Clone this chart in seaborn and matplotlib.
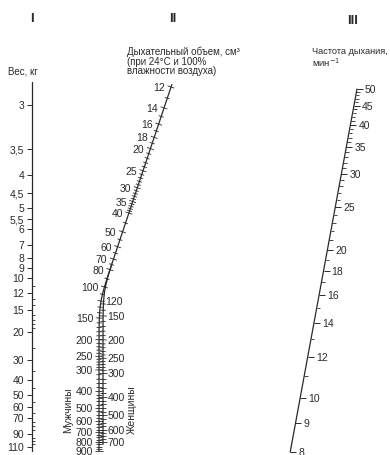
import numpy as np
import pandas as pd
import matplotlib
matplotlib.use("Agg")
import matplotlib.pyplot as plt
import seaborn as sns
from matplotlib import font_manager

# ---------------- data ----------------
weight_labels = [3, 3.5, 4, 4.5, 5, 5.5, 6, 7, 8, 9, 10, 12, 15, 20, 30, 40, 50, 60, 70, 90, 110]
weight_minor = [11, 13, 14, 16, 17, 18, 19, 25, 35, 45, 55, 65, 75, 80, 85, 95, 100, 105]

volume_labels_left = [12, 14, 16, 18, 20, 25, 30, 35, 40, 50, 60, 70, 80, 100]
volume_labels_right = [120]
volume_minor = [13, 15, 17, 19, 21, 22, 23, 24, 26, 27, 28, 29, 31, 32, 33, 34,
                36, 37, 38, 39, 45, 55, 65, 75, 90, 110]
men_labels = [150, 200, 250, 300, 400, 500, 600, 700, 800, 900]
women_labels = [150, 200, 250, 300, 400, 500, 600, 700]
split_minor = [130, 140, 160, 170, 180, 190, 210, 220, 230, 240, 260, 270, 280, 290,
               320, 340, 360, 380, 420, 440, 460, 480, 525, 550, 575, 625, 650, 675,
               725, 750, 775, 825, 850, 875]

rate_labels = [50, 45, 40, 35, 30, 25, 20, 18, 16, 14, 12, 10, 9, 8]
rate_minor = [49, 48, 47, 46, 44, 43, 42, 41, 39, 38, 37, 36, 34, 33, 32, 31,
              29, 28, 27, 26, 24, 23, 22, 21, 19, 17, 15, 13, 11]

numerals = ["I", "II", "III"]
weight_title = "Вес, кг"
volume_title = ["Дыхательный объем, см³", "(при 24°C и 100%", "влажности воздуха)"]
rate_title = ["Частота дыхания,", "мин$^{-1}$"]
sex_labels = ["Мужчины", "Женщины"]

# ---------------- style ----------------
sns.set_style("white")
avail = {f.name for f in font_manager.fontManager.ttflist}
fam = [f for f in ["Liberation Sans Narrow", "Liberation Sans", "DejaVu Sans"] if f in avail]
plt.rcParams["font.family"] = fam + ["DejaVu Sans"]
INK = "#2a2a2a"

fig = plt.figure(figsize=(3.9, 4.56), dpi=100)
ax = fig.add_axes([0, 0, 1, 1])
ax.set_xlim(0, 390)
ax.set_ylim(456, 0)
ax.axis("off")

# ---------------- nomogram scale functions ----------------
def weight_y(w):
    return 150.2 + 63.7 * np.log(np.asarray(w, float) - 2.5)

WEIGHT_X = 31.7

def men_y(v):
    return -42.3 + 72.7 * np.log(np.asarray(v, float) - 6)

def women_y(v):
    return -81.6 + 80.2 * np.log(np.asarray(v, float) - 6)

def men_x(y):
    return 99 + 0.335 * 8 * np.logaddexp(0, (303 - np.asarray(y, float)) / 8)

def women_x(y):
    return 103 + 0.335 * 8 * np.logaddexp(0, (291 - np.asarray(y, float)) / 8)

RATE_B = 363 / (8 ** -0.25 - 50 ** -0.25)

def rate_y(r):
    return 90 + RATE_B * (np.asarray(r, float) ** -0.25 - 50 ** -0.25)

def rate_x(y):
    return 357 - 0.184 * (np.asarray(y, float) - 90)

def seg(x0, y0, x1, y1, lw=0.7):
    ax.plot([x0, x1], [y0, y1], color=INK, lw=lw, solid_capstyle="butt")

FS = 7.5

# ---------------- scale I: weight ----------------
wl = np.geomspace(2.85, 117, 50)
sns.lineplot(x=np.full_like(wl, WEIGHT_X), y=weight_y(wl), sort=False,
             estimator=None, color=INK, lw=0.9, ax=ax)
for w in weight_labels:
    y = weight_y(w)
    seg(WEIGHT_X - 5.2, y, WEIGHT_X, y)
    txt = f"{w:g}".replace(".", ",")
    ax.text(WEIGHT_X - 7.5, y, txt, ha="right", va="center", fontsize=FS, color=INK)
for w in weight_minor:
    y = weight_y(w)
    seg(WEIGHT_X, y, WEIGHT_X + 2.8, y, lw=0.6)

# ---------------- scale II: tidal volume ----------------
vm = np.geomspace(11.8, 905, 300)
ym = men_y(vm)
sns.lineplot(x=men_x(ym), y=ym, sort=False, estimator=None, color=INK, lw=0.9, ax=ax)
vw = np.geomspace(81.3, 720, 200)
yw = women_y(vw)
sns.lineplot(x=women_x(yw), y=yw, sort=False, estimator=None, color=INK, lw=0.9, ax=ax)

def curve_tick(xfun, y, half):
    dy = 0.5
    dx = (xfun(y + dy) - xfun(y - dy)) / (2 * dy)
    n = np.hypot(1, dx)
    px, py = 1 / n, -dx / n
    x = xfun(y)
    seg(x - half * px, y - half * py, x + half * px, y + half * py, lw=0.6)
    return x

for v in volume_labels_left:
    y = men_y(v)
    x = curve_tick(men_x, y, 3.6)
    ax.text(x - 6.0, y, f"{v}", ha="right", va="center", fontsize=FS, color=INK)
for v in volume_labels_right:
    y = men_y(v)
    x = curve_tick(men_x, y, 3.6)
    ax.text(x + 4.5, y, f"{v}", ha="left", va="center", fontsize=FS, color=INK)
for v in volume_minor:
    curve_tick(men_x, men_y(v), 2.6)

for v in men_labels:
    y = men_y(v)
    x = curve_tick(men_x, y, 3.6)
    ax.text(x - 6.0, y, f"{v}", ha="right", va="center", fontsize=FS, color=INK)
for v in women_labels:
    y = women_y(v)
    x = curve_tick(women_x, y, 3.6)
    ax.text(x + 4.5, y, f"{v}", ha="left", va="center", fontsize=FS, color=INK)
for v in split_minor:
    if v <= 900:
        curve_tick(men_x, men_y(v), 2.6)
    if v <= 700:
        curve_tick(women_x, women_y(v), 2.6)

ax.text(68, 410, sex_labels[0], rotation=90, ha="center", va="center", fontsize=FS, color=INK)
ax.text(132, 410, sex_labels[1], rotation=90, ha="center", va="center", fontsize=FS, color=INK)

# ---------------- scale III: rate ----------------
rl = np.linspace(50, 8, 100)
ry = rate_y(rl)
sns.lineplot(x=rate_x(ry), y=ry, sort=False, estimator=None, color=INK, lw=0.9, ax=ax)
for r in rate_labels:
    y = rate_y(r)
    x = rate_x(y)
    seg(x, y, x + 6, y)
    ax.text(x + 8, y, f"{r}", ha="left", va="center", fontsize=FS, color=INK)
for r in rate_minor:
    y = rate_y(r)
    x = rate_x(y)
    seg(x, y, x + 3.5, y, lw=0.6)

# ---------------- titles ----------------
for xx, yy, t in zip([WEIGHT_X, 173, 353], [19, 19, 21], numerals):
    ax.text(xx, yy, t, ha="center", va="center", fontsize=9.5, fontweight="bold", color=INK)
ax.text(8, 72, weight_title, ha="left", va="center", fontsize=7, color=INK)
for i, t in enumerate(volume_title):
    ax.text(127, 52 + i * 9.6, t, ha="left", va="center", fontsize=7, color=INK)
ax.text(312, 52, rate_title[0], ha="left", va="center", fontsize=6.6, color=INK)
ax.text(312, 63, rate_title[1], ha="left", va="center", fontsize=6.8, color=INK)

fig.savefig("out.png", dpi=100)
